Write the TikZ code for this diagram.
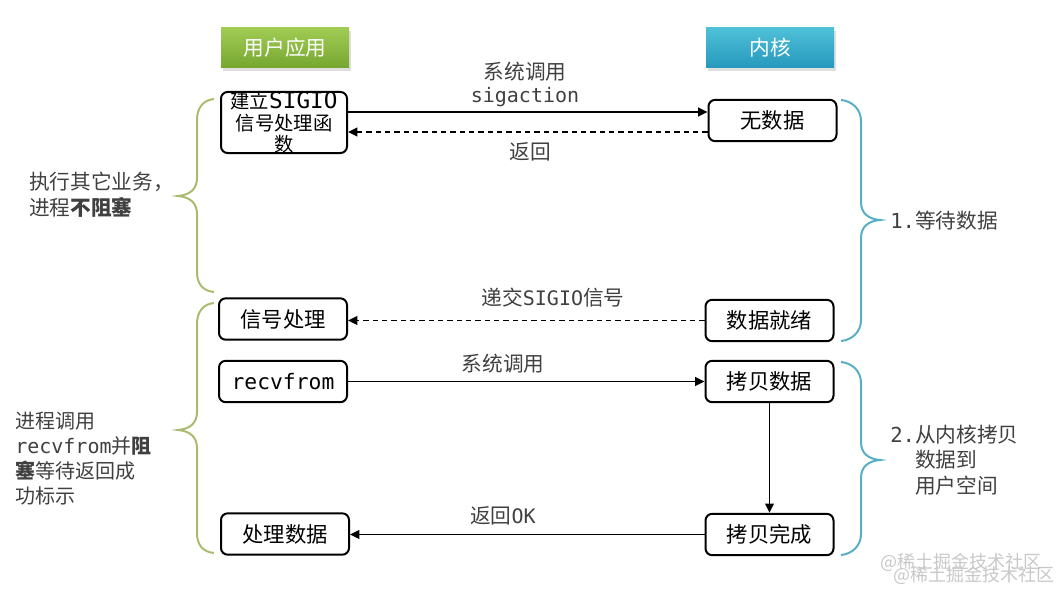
\documentclass[tikz,border=0pt]{standalone}
\usepackage{fontspec}
\setmainfont{Noto Sans CJK SC}
\newfontfamily\mono{DejaVu Sans Mono}
\usetikzlibrary{arrows.meta,shadows}
\definecolor{txtgray}{HTML}{404040}
\definecolor{bracegreen}{HTML}{A9BC6E}
\definecolor{braceblue}{HTML}{58AFC4}
\definecolor{gtop}{RGB}{160,204,84}
\definecolor{gbot}{RGB}{118,166,48}
\definecolor{btop}{RGB}{78,192,216}
\definecolor{bbot}{RGB}{38,152,188}
\definecolor{wm}{RGB}{200,200,200}
\begin{document}
\begin{tikzpicture}[x=0.75pt,y=-0.75pt,
 box/.style={draw=black,line width=1.5pt,rounded corners=5pt,fill=white,minimum width=96pt,minimum height=31pt,inner sep=0pt,font=\fontsize{16}{19}\selectfont,align=center},
 hdr/.style={minimum width=96pt,minimum height=30pt,inner sep=0pt,text=white,font=\fontsize{15.5}{18}\selectfont,drop shadow={shadow xshift=1.5pt,shadow yshift=-2pt,opacity=0.25}},
 arr/.style={line width=1.4pt,-{Triangle[length=7pt,width=6.5pt]}},
 darr/.style={arr,dash pattern=on 4pt off 3pt},
 lbl/.style={text=txtgray,font=\fontsize{15.5}{18}\selectfont,inner sep=0pt},
 side/.style={text=txtgray,font=\fontsize{15.5}{19.5}\selectfont,inner sep=0pt,align=left,anchor=west},
 gbrace/.style={draw=bracegreen,line width=1.5pt},
 bbrace/.style={draw=braceblue,line width=1.5pt},
 wmark/.style={text=wm,font=\fontsize{13.5}{16}\selectfont,inner sep=0pt,anchor=west}]
\useasboundingbox (0,0) rectangle (1060,592);

% headers
\node[hdr,top color=gtop,bottom color=gbot] (hu) at (285,48) {用户应用};
\node[hdr,top color=btop,bottom color=bbot] (hk) at (770,48) {内核};

% boxes
\node[box,minimum width=94.5pt,minimum height=45.75pt,font=\fontsize{14.5}{16}\selectfont] (jl) at (284,122.5) {建立{\mono\fontsize{17}{16}\selectfont SIGIO}\\信号处理函\\数};
\node[box] (wsj) at (772.5,120.5) {无数据};
\node[box] (xhcl) at (283,319) {信号处理};
\node[box] (sjjx) at (769.5,320.5) {数据就绪};
\node[box] (rf) at (283,381.5) {\mono\fontsize{16}{19}\selectfont recvfrom};
\node[box] (kbsj) at (769.5,381.5) {拷贝数据};
\node[box] (clsj) at (285,534) {处理数据};
\node[box] (kbwc) at (769.5,534.5) {拷贝完成};

% arrows
\coordinate (a1) at ([yshift=6.4pt]wsj.west);
\coordinate (a2) at ([yshift=-8.6pt]wsj.west);
\draw[arr] (jl.east |- a1) -- (a1);
\draw[darr] (a2) -- (jl.east |- a2);
\draw[darr] (sjjx.west) -- (xhcl.east |- sjjx.west);
\draw[arr] (rf.east) -- (kbsj.west |- rf.east);
\draw[arr] (kbsj.south) -- (kbwc.north);
\draw[arr] (kbwc.west) -- (clsj.east |- kbwc.west);

% labels
\node[lbl] (l1) at (525,72) {系统调用};
\node[lbl] (l2) at (525,97) {\mono\fontsize{15}{18}\selectfont sigaction};
\node[lbl] (l3) at (530,152) {返回};
\node[lbl] (l4) at (553,298) {递交{\mono\fontsize{15}{18}\selectfont SIGIO}信号};
\node[lbl] (l5) at (503,364) {系统调用};
\node[lbl] (l6) at (503,516) {返回{\mono\fontsize{15}{18}\selectfont OK}};

% braces
\draw[gbrace] (214,99) .. controls (203,100) and (197,108) .. (197,120) -- (197,178)
  .. controls (197,189) and (190,195) .. (178,196) .. controls (190,197) and (197,203) .. (197,214)
  -- (197,272) .. controls (197,284) and (203,291) .. (214,292);
\draw[gbrace] (214,303) .. controls (203,304) and (197,312) .. (197,324) -- (197,412)
  .. controls (197,423) and (190,429) .. (178,430) .. controls (190,431) and (197,437) .. (197,448)
  -- (197,533) .. controls (197,545) and (203,552) .. (214,553);
\draw[bbrace] (841,100) .. controls (852,101) and (861,109) .. (861,121) -- (861,202)
  .. controls (861,213) and (868,219) .. (880,220) .. controls (868,221) and (861,227) .. (861,238)
  -- (861,320) .. controls (861,332) and (852,340) .. (841,341);
\draw[bbrace] (841,362) .. controls (852,363) and (861,371) .. (861,383) -- (861,442)
  .. controls (861,453) and (868,459) .. (880,460) .. controls (868,461) and (861,467) .. (861,478)
  -- (861,534) .. controls (861,546) and (852,554) .. (841,555);

% side texts
\node[side] (t1) at (29,195) {执行其它业务，\\进程\textbf{不阻塞}};
\node[side,font=\fontsize{15}{18.75}\selectfont] (t2) at (15,458.5) {进程调用\\{\mono\fontsize{15}{18}\selectfont recvfrom}并\textbf{阻}\\\textbf{塞}等待返回成\\功标示};
\node[side] (t3) at (890,221) {{\mono 1.}等待数据};
\node[side,font=\fontsize{15.5}{19.2}\selectfont] (t4) at (890,460) {{\mono 2.}从内核拷贝\\\hspace*{18.75pt}数据到\\\hspace*{18.75pt}用户空间};

% watermark
\node[wmark] (w1) at (880,562) {@稀土掘金技术社区};
\node[wmark] (w2) at (893,575) {@稀土掘金技术社区};
\end{tikzpicture}
\end{document}
